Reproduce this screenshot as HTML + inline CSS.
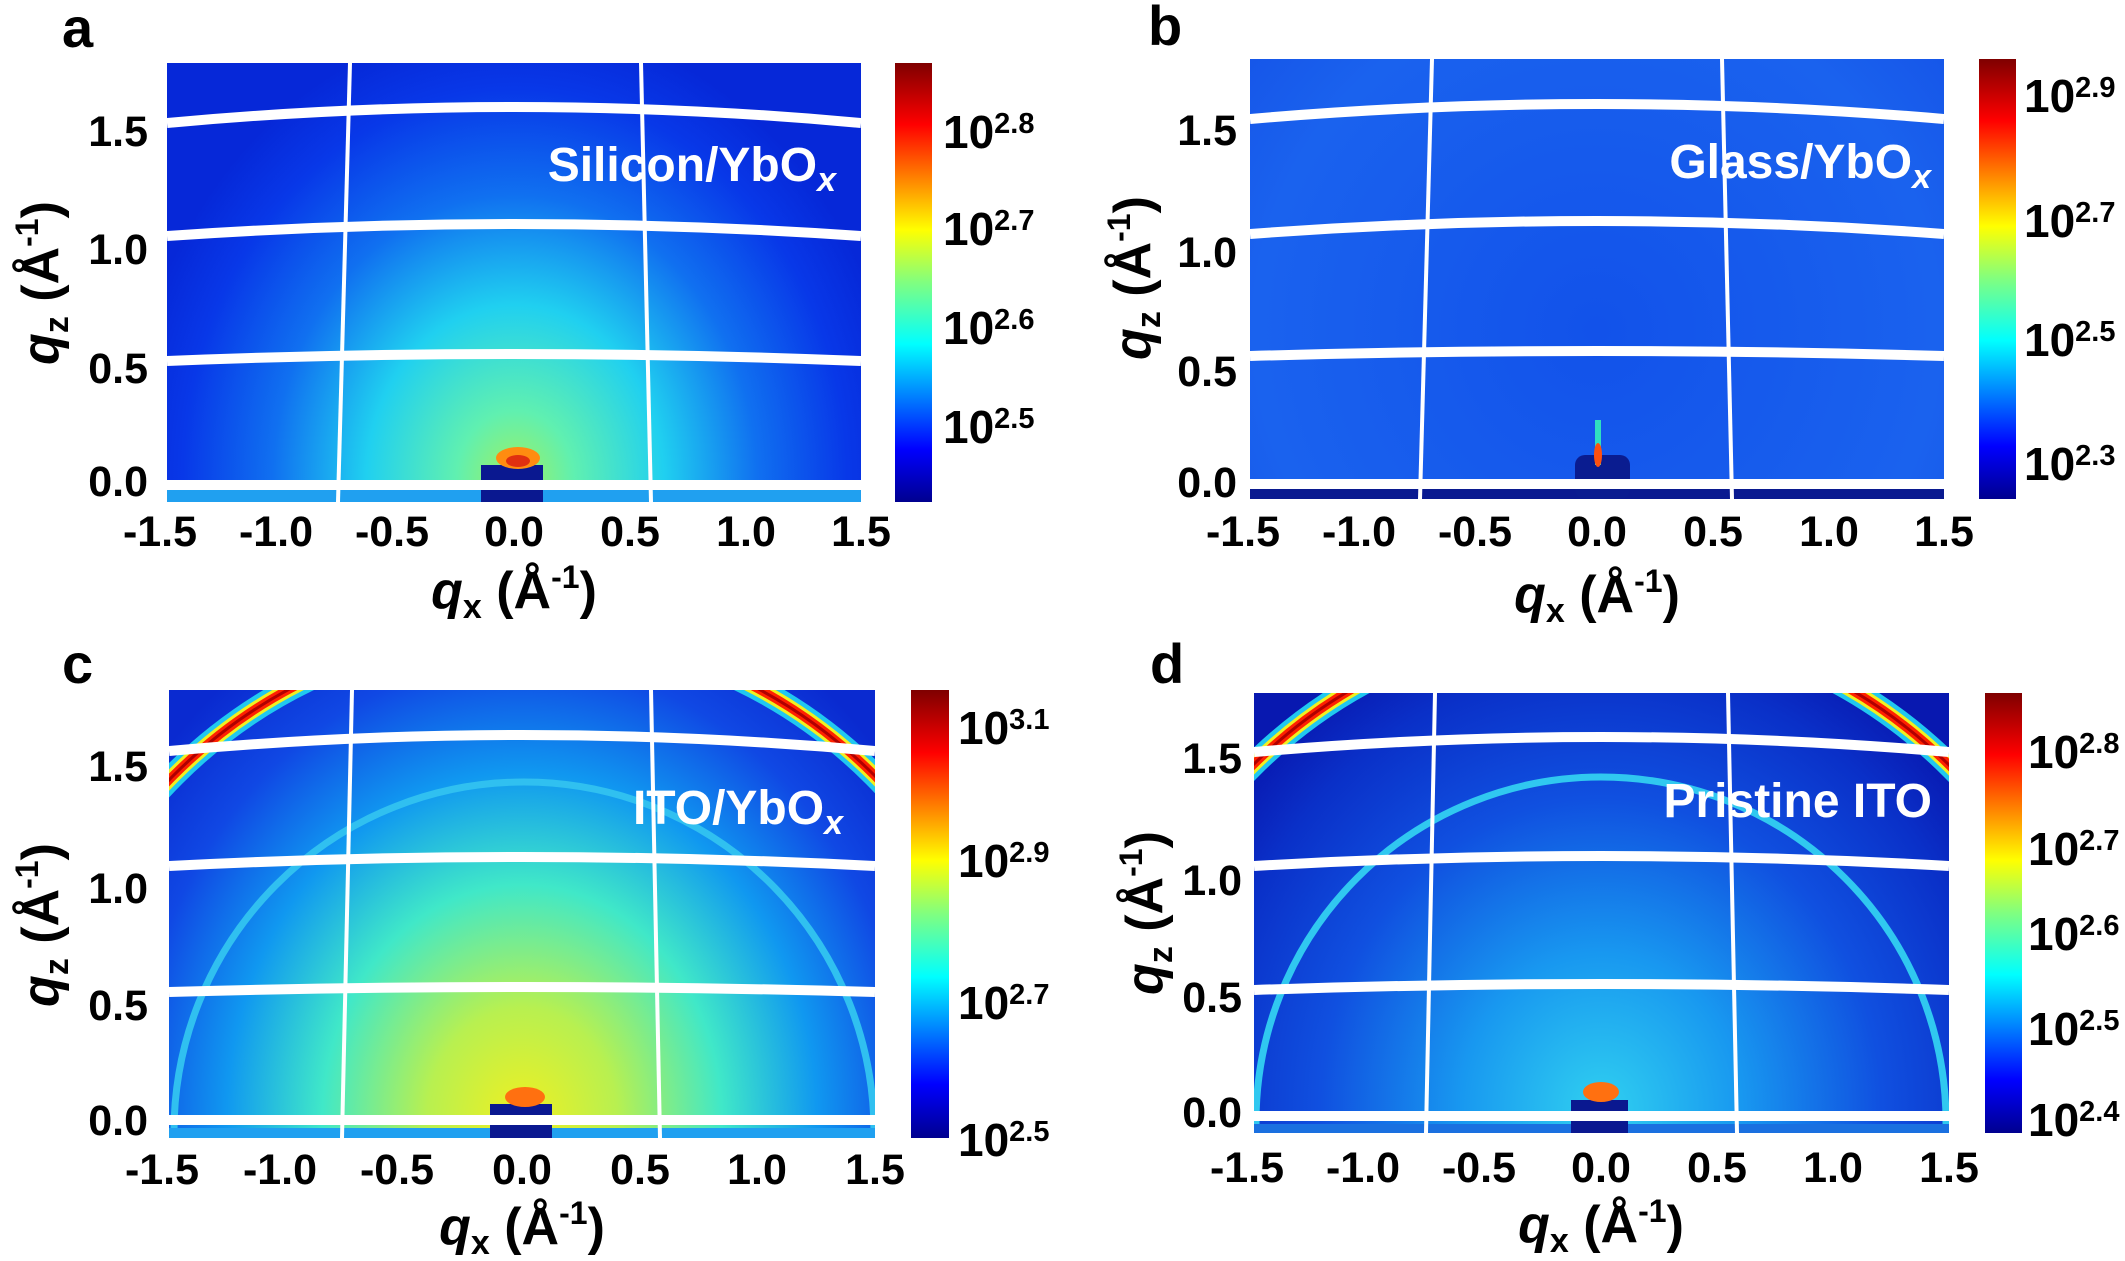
<!DOCTYPE html>
<html><head><meta charset="utf-8"><style>
html,body{margin:0;padding:0;background:#fff;overflow:hidden;width:2125px;height:1261px;}
svg{display:block;}
text{font-family:"Liberation Sans",Arial,sans-serif;font-weight:bold;}
</style></head><body>
<svg width="2125" height="1261" viewBox="0 0 2125 1261" xmlns="http://www.w3.org/2000/svg">
<defs>
<linearGradient id="jet" x1="0" y1="1" x2="0" y2="0">
<stop offset="0" stop-color="#00008f"/><stop offset="0.12" stop-color="#0000ff"/>
<stop offset="0.36" stop-color="#00ffff"/><stop offset="0.5" stop-color="#80ff80"/>
<stop offset="0.62" stop-color="#ffff00"/><stop offset="0.86" stop-color="#ff0000"/>
<stop offset="1" stop-color="#7f0000"/></linearGradient>
<radialGradient id="ga" cx="515" cy="480" r="460" gradientUnits="userSpaceOnUse" gradientTransform="translate(515 480) scale(0.85 1) translate(-515 -480)">
<stop offset="0" stop-color="#a0f060"/><stop offset="0.15" stop-color="#60f0b0"/>
<stop offset="0.38" stop-color="#20d0f0"/><stop offset="0.62" stop-color="#1070f0"/>
<stop offset="0.85" stop-color="#0838e8"/><stop offset="1" stop-color="#0628d8"/></radialGradient>
<radialGradient id="gb" cx="1597" cy="330" r="620" gradientUnits="userSpaceOnUse">
<stop offset="0" stop-color="#1252ea"/><stop offset="0.55" stop-color="#1a62ee"/>
<stop offset="0.8" stop-color="#1450e6"/><stop offset="1" stop-color="#0420b0"/></radialGradient>
<radialGradient id="gc" cx="522" cy="1120" r="560" gradientUnits="userSpaceOnUse" gradientTransform="translate(522 1120) scale(0.85 1) translate(-522 -1120)">
<stop offset="0" stop-color="#f0f020"/><stop offset="0.2" stop-color="#b8f050"/>
<stop offset="0.42" stop-color="#40e8c8"/><stop offset="0.62" stop-color="#1098f0"/>
<stop offset="0.82" stop-color="#1048e4"/><stop offset="1" stop-color="#0a2ad0"/></radialGradient>
<radialGradient id="gd" cx="1601" cy="1110" r="520" gradientUnits="userSpaceOnUse" gradientTransform="translate(1601 1110) scale(0.9 1) translate(-1601 -1110)">
<stop offset="0" stop-color="#30d0f0"/><stop offset="0.3" stop-color="#1898f0"/>
<stop offset="0.6" stop-color="#1050e0"/><stop offset="0.85" stop-color="#0a30c8"/>
<stop offset="1" stop-color="#0818b0"/></radialGradient>
<clipPath id="ca"><rect x="167" y="63" width="694" height="439"/></clipPath>
<clipPath id="cb"><rect x="1250" y="59" width="694" height="440"/></clipPath>
<clipPath id="cc"><rect x="169" y="690" width="706" height="448"/></clipPath>
<clipPath id="cd"><rect x="1254" y="693" width="695" height="440"/></clipPath>
</defs>

<!-- Panel a -->
<g clip-path="url(#ca)">
<rect x="167" y="63" width="694" height="439" fill="url(#ga)"/>
<rect x="167" y="490" width="694" height="12" fill="#20a0f0"/>
<rect x="481" y="465" width="62" height="37" fill="#0a1890"/>
<ellipse cx="518" cy="458" rx="22" ry="11" fill="#ff8c10"/>
<ellipse cx="518" cy="461" rx="12" ry="6" fill="#e03010"/>
<g fill="none" stroke="#fff">
<path d="M167,123 Q514,91 861,123" stroke-width="10"/>
<path d="M167,236 Q514,212 861,236" stroke-width="10"/>
<path d="M167,361 Q514,347 861,361" stroke-width="10"/>
<path d="M167,485 L861,485" stroke-width="10"/>
<path d="M350,63 L338,502" stroke-width="4"/>
<path d="M641,63 L651,502" stroke-width="4"/>
</g></g>
<rect x="895" y="63" width="37" height="439" fill="url(#jet)"/>

<!-- Panel b -->
<g clip-path="url(#cb)">
<rect x="1250" y="59" width="694" height="440" fill="url(#gb)"/>
<rect x="1250" y="489" width="694" height="10" fill="#0a1a90"/>
<rect x="1575" y="455" width="55" height="44" rx="10" fill="#0a1c90"/>
<rect x="1595" y="420" width="6" height="45" fill="#30e0c0"/>
<ellipse cx="1598" cy="455" rx="4" ry="12" fill="#ff5010"/>
<g fill="none" stroke="#fff">
<path d="M1250,119 Q1597,89 1944,119" stroke-width="10"/>
<path d="M1250,234 Q1597,208 1944,234" stroke-width="10"/>
<path d="M1250,356 Q1597,346 1944,356" stroke-width="10"/>
<path d="M1250,484 L1944,484" stroke-width="10"/>
<path d="M1432,59 L1420,499" stroke-width="4"/>
<path d="M1722,59 L1732,499" stroke-width="4"/>
</g></g>
<rect x="1979" y="59" width="37" height="440" fill="url(#jet)"/>

<!-- Panel c -->
<g clip-path="url(#cc)">
<rect x="169" y="690" width="706" height="448" fill="url(#gc)"/>
<g fill="none">
<circle cx="524" cy="1125" r="495" stroke="#20c8f0" stroke-width="24"/>
<circle cx="524" cy="1125" r="495" stroke="#f0f020" stroke-width="15"/>
<circle cx="524" cy="1125" r="495" stroke="#ff2000" stroke-width="9"/>
<circle cx="524" cy="1125" r="495" stroke="#b00000" stroke-width="3"/>
<circle cx="524" cy="1132" r="350" stroke="#30c0f0" stroke-width="7"/>
</g>
<rect x="169" y="1128" width="706" height="10" fill="#20a0f0"/>
<rect x="490" y="1104" width="62" height="34" fill="#0a1890"/>
<ellipse cx="525" cy="1097" rx="20" ry="10" fill="#ff7010"/>
<g fill="none" stroke="#fff">
<path d="M169,751 Q522,719 875,751" stroke-width="10"/>
<path d="M169,866 Q522,848 875,866" stroke-width="10"/>
<path d="M169,992 Q522,982 875,992" stroke-width="10"/>
<path d="M169,1120 L875,1120" stroke-width="10"/>
<path d="M352,690 L342,1138" stroke-width="4"/>
<path d="M651,690 L660,1138" stroke-width="4"/>
</g></g>
<rect x="911" y="690" width="38" height="448" fill="url(#jet)"/>

<!-- Panel d -->
<g clip-path="url(#cd)">
<rect x="1254" y="693" width="695" height="440" fill="url(#gd)"/>
<g fill="none">
<circle cx="1601" cy="1117" r="495" stroke="#20c8f0" stroke-width="24"/>
<circle cx="1601" cy="1117" r="495" stroke="#f0f020" stroke-width="15"/>
<circle cx="1601" cy="1117" r="495" stroke="#ff2000" stroke-width="9"/>
<circle cx="1601" cy="1117" r="495" stroke="#b00000" stroke-width="3"/>
<circle cx="1601" cy="1122" r="345" stroke="#30c8f0" stroke-width="7"/>
</g>
<rect x="1254" y="1124" width="695" height="9" fill="#1a70e0"/>
<rect x="1571" y="1100" width="57" height="33" fill="#0a1890"/>
<ellipse cx="1601" cy="1092" rx="18" ry="10" fill="#ff7010"/>
<g fill="none" stroke="#fff">
<path d="M1254,752 Q1601,722 1949,752" stroke-width="10"/>
<path d="M1254,866 Q1601,846 1949,866" stroke-width="10"/>
<path d="M1254,990 Q1601,978 1949,990" stroke-width="10"/>
<path d="M1254,1116 L1949,1116" stroke-width="10"/>
<path d="M1435,693 L1426,1133" stroke-width="4"/>
<path d="M1728,693 L1737,1133" stroke-width="4"/>
</g></g>
<rect x="1985" y="693" width="37" height="440" fill="url(#jet)"/>

<!-- Panel letters -->
<g font-size="56" fill="#000">
<text x="62" y="47">a</text>
<text x="1148" y="45">b</text>
<text x="62" y="683">c</text>
<text x="1150" y="683">d</text>
</g>

<!-- In-plot labels -->
<g font-size="48" fill="#fff">
<text x="836" y="181" text-anchor="end">Silicon/YbO<tspan font-style="italic" font-size="34" dy="10">x</tspan></text>
<text x="1931" y="178" text-anchor="end">Glass/YbO<tspan font-style="italic" font-size="34" dy="10">x</tspan></text>
<text x="843" y="824" text-anchor="end">ITO/YbO<tspan font-style="italic" font-size="34" dy="10">x</tspan></text>
<text x="1932" y="817" text-anchor="end">Pristine ITO</text>
</g>

<!-- Tick labels -->
<g font-size="43" fill="#000" text-anchor="end">
<text x="148" y="146">1.5</text><text x="148" y="264">1.0</text><text x="148" y="383">0.5</text><text x="148" y="496">0.0</text>
<text x="1237" y="145">1.5</text><text x="1237" y="267">1.0</text><text x="1237" y="386">0.5</text><text x="1237" y="497">0.0</text>
<text x="148" y="781">1.5</text><text x="148" y="903">1.0</text><text x="148" y="1020">0.5</text><text x="148" y="1135">0.0</text>
<text x="1242" y="773">1.5</text><text x="1242" y="895">1.0</text><text x="1242" y="1012">0.5</text><text x="1242" y="1127">0.0</text>
</g>
<g font-size="43" fill="#000" text-anchor="middle">
<text x="160" y="546">-1.5</text><text x="276" y="546">-1.0</text><text x="392" y="546">-0.5</text><text x="514" y="546">0.0</text><text x="630" y="546">0.5</text><text x="746" y="546">1.0</text><text x="861" y="546">1.5</text>
<text x="1243" y="546">-1.5</text><text x="1359" y="546">-1.0</text><text x="1475" y="546">-0.5</text><text x="1597" y="546">0.0</text><text x="1713" y="546">0.5</text><text x="1829" y="546">1.0</text><text x="1944" y="546">1.5</text>
<text x="162" y="1184">-1.5</text><text x="280" y="1184">-1.0</text><text x="397" y="1184">-0.5</text><text x="522" y="1184">0.0</text><text x="640" y="1184">0.5</text><text x="757" y="1184">1.0</text><text x="875" y="1184">1.5</text>
<text x="1247" y="1182">-1.5</text><text x="1363" y="1182">-1.0</text><text x="1479" y="1182">-0.5</text><text x="1601" y="1182">0.0</text><text x="1717" y="1182">0.5</text><text x="1833" y="1182">1.0</text><text x="1949" y="1182">1.5</text>
</g>

<!-- Axis labels -->
<g font-size="52" fill="#000" text-anchor="middle">
<text x="514" y="608"><tspan font-style="italic">q</tspan><tspan font-size="34" dy="10">x</tspan><tspan dy="-10"> (Å</tspan><tspan font-size="32" dy="-20">-1</tspan><tspan dy="20">)</tspan></text>
<text x="1597" y="612"><tspan font-style="italic">q</tspan><tspan font-size="34" dy="10">x</tspan><tspan dy="-10"> (Å</tspan><tspan font-size="32" dy="-20">-1</tspan><tspan dy="20">)</tspan></text>
<text x="522" y="1244"><tspan font-style="italic">q</tspan><tspan font-size="34" dy="10">x</tspan><tspan dy="-10"> (Å</tspan><tspan font-size="32" dy="-20">-1</tspan><tspan dy="20">)</tspan></text>
<text x="1601" y="1242"><tspan font-style="italic">q</tspan><tspan font-size="34" dy="10">x</tspan><tspan dy="-10"> (Å</tspan><tspan font-size="32" dy="-20">-1</tspan><tspan dy="20">)</tspan></text>
<text transform="translate(58 283) rotate(-90)"><tspan font-style="italic">q</tspan><tspan font-size="34" dy="10">z</tspan><tspan dy="-10"> (Å</tspan><tspan font-size="32" dy="-20">-1</tspan><tspan dy="20">)</tspan></text>
<text transform="translate(1150 278) rotate(-90)"><tspan font-style="italic">q</tspan><tspan font-size="34" dy="10">z</tspan><tspan dy="-10"> (Å</tspan><tspan font-size="32" dy="-20">-1</tspan><tspan dy="20">)</tspan></text>
<text transform="translate(58 925) rotate(-90)"><tspan font-style="italic">q</tspan><tspan font-size="34" dy="10">z</tspan><tspan dy="-10"> (Å</tspan><tspan font-size="32" dy="-20">-1</tspan><tspan dy="20">)</tspan></text>
<text transform="translate(1162 913) rotate(-90)"><tspan font-style="italic">q</tspan><tspan font-size="34" dy="10">z</tspan><tspan dy="-10"> (Å</tspan><tspan font-size="32" dy="-20">-1</tspan><tspan dy="20">)</tspan></text>
</g>

<!-- Colorbar labels -->
<g font-size="46" fill="#000">
<text x="943" y="148">10<tspan font-size="29" dy="-15">2.8</tspan></text>
<text x="943" y="245">10<tspan font-size="29" dy="-15">2.7</tspan></text>
<text x="943" y="344">10<tspan font-size="29" dy="-15">2.6</tspan></text>
<text x="943" y="443">10<tspan font-size="29" dy="-15">2.5</tspan></text>
<text x="2024" y="112">10<tspan font-size="29" dy="-15">2.9</tspan></text>
<text x="2024" y="237">10<tspan font-size="29" dy="-15">2.7</tspan></text>
<text x="2024" y="356">10<tspan font-size="29" dy="-15">2.5</tspan></text>
<text x="2024" y="480">10<tspan font-size="29" dy="-15">2.3</tspan></text>
<text x="958" y="744">10<tspan font-size="29" dy="-15">3.1</tspan></text>
<text x="958" y="877">10<tspan font-size="29" dy="-15">2.9</tspan></text>
<text x="958" y="1019">10<tspan font-size="29" dy="-15">2.7</tspan></text>
<text x="958" y="1156">10<tspan font-size="29" dy="-15">2.5</tspan></text>
<text x="2028" y="768">10<tspan font-size="29" dy="-15">2.8</tspan></text>
<text x="2028" y="865">10<tspan font-size="29" dy="-15">2.7</tspan></text>
<text x="2028" y="950">10<tspan font-size="29" dy="-15">2.6</tspan></text>
<text x="2028" y="1045">10<tspan font-size="29" dy="-15">2.5</tspan></text>
<text x="2028" y="1136">10<tspan font-size="29" dy="-15">2.4</tspan></text>
</g>
</svg>
</body></html>
